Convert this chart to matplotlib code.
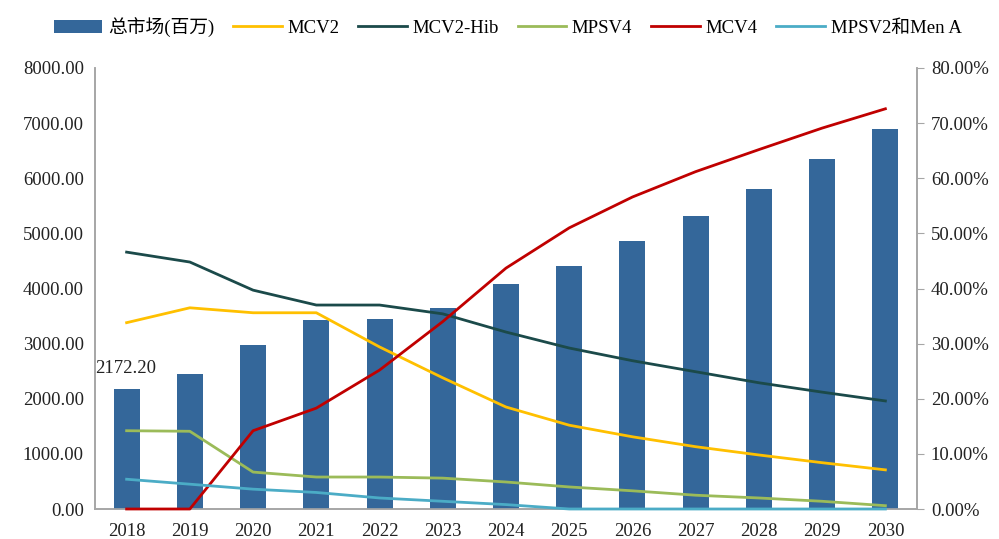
import matplotlib.pyplot as plt
from matplotlib.ticker import FuncFormatter

years = ["2018", "2019", "2020", "2021", "2022", "2023", "2024",
         "2025", "2026", "2027", "2028", "2029", "2030"]
total_market = [2172.20, 2450, 2976, 3430, 3450, 3650, 4083,
                4410, 4864, 5318, 5808, 6352, 6897]
mcv2 = [33.8, 36.5, 35.6, 35.6, 29.4, 23.8, 18.5, 15.2, 13.1, 11.3, 9.8, 8.4, 7.1]
mcv2_hib = [46.6, 44.8, 39.7, 37.0, 37.0, 35.4, 32.1, 29.2, 26.9, 24.9, 22.9, 21.2, 19.6]
mpsv4 = [14.2, 14.1, 6.7, 5.8, 5.8, 5.6, 4.9, 4.0, 3.3, 2.5, 2.0, 1.4, 0.6]
mcv4 = [0, 0, 14.2, 18.3, 25.2, 34.0, 43.7, 51.0, 56.6, 61.2, 65.2, 69.1, 72.6]
mpsv2_mena = [5.4, 4.5, 3.6, 3.0, 2.0, 1.4, 0.8, 0, 0, 0, 0, 0, 0]

plt.rcParams["font.family"] = ["Liberation Serif", "Noto Sans CJK SC"]
fs = 13.5

fig = plt.figure(figsize=(9.99, 5.39), dpi=100)
ax = fig.add_axes([95 / 999, 1 - 509 / 539, 822 / 999, 441 / 539])
ax2 = ax.twinx()

x = list(range(len(years)))
ax.bar(x, total_market, width=0.41, color="#34679a", label="总市场(百万)", zorder=1)
ax.text(x[0] - 0.5, total_market[0] + 230, f"{total_market[0]:.2f}",
        fontsize=fs, color="#222222", ha="left", va="bottom")

series = [
    ("MCV2", mcv2, "#ffc000"),
    ("MCV2-Hib", mcv2_hib, "#1b4a4a"),
    ("MPSV4", mpsv4, "#9bbb59"),
    ("MCV4", mcv4, "#c00000"),
    ("MPSV2和Men A", mpsv2_mena, "#4bacc6"),
]
for name, vals, color in series:
    ax2.plot(x, vals, color=color, linewidth=2.0, label=name, clip_on=False, zorder=3)

ax.set_xlim(-0.5, len(years) - 0.5)
ax.set_ylim(0, 8000)
ax.set_yticks(range(0, 8001, 1000))
ax.yaxis.set_major_formatter(FuncFormatter(lambda v, p: f"{v:.2f}"))
ax.set_xticks(x)
ax.set_xticklabels(years)
ax2.set_ylim(0, 80)
ax2.set_yticks(range(0, 81, 10))
ax2.yaxis.set_major_formatter(FuncFormatter(lambda v, p: f"{v:.2f}%"))

for a in (ax, ax2):
    a.spines["top"].set_visible(False)
    for s in ("left", "right", "bottom"):
        a.spines[s].set_color("#a6a6a6")
        a.spines[s].set_linewidth(1.2)
        a.spines[s].set_zorder(0.5)
    a.tick_params(labelsize=fs, colors="#222222")
ax.tick_params(axis="y", length=0, pad=8)
ax.tick_params(axis="x", length=0, pad=10)
ax2.tick_params(axis="y", length=5, color="#a6a6a6", pad=5)

h1, l1 = ax.get_legend_handles_labels()
h2, l2 = ax2.get_legend_handles_labels()
fig.legend(h1 + h2, l1 + l2, loc="upper center", bbox_to_anchor=(0.508, 1.0),
           ncol=6, frameon=False, fontsize=fs, handlelength=2.6,
           handletextpad=0.3, columnspacing=1.0)

fig.savefig("out.png", dpi=100)
